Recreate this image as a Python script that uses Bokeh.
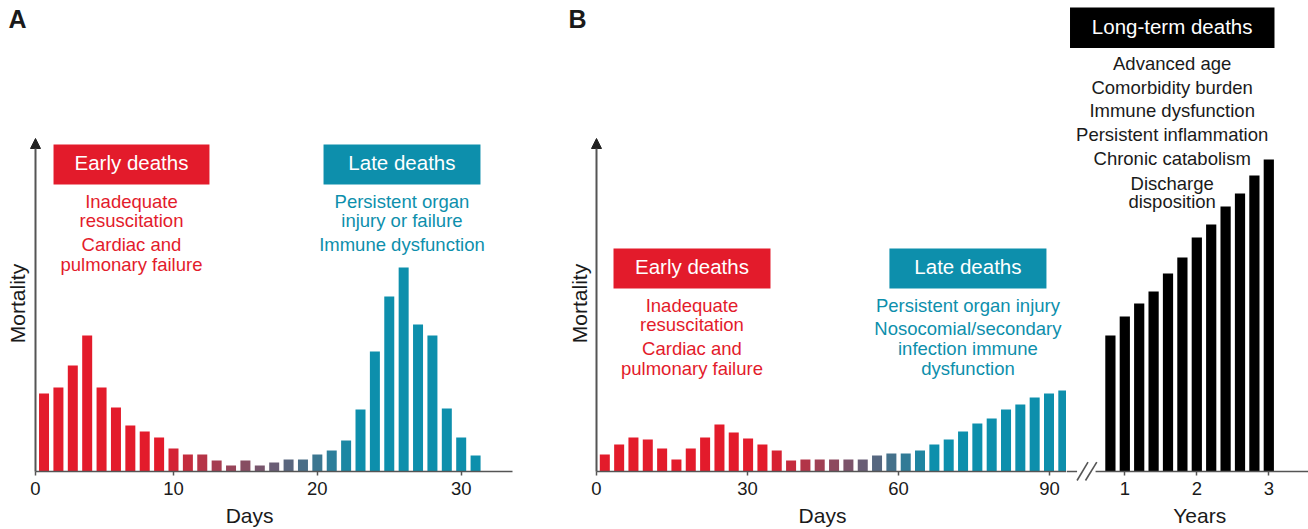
import numpy as np
from bokeh.plotting import figure
from bokeh.models import Range1d, FixedTicker, Label, Arrow, NormalHead
from bokeh.layouts import row
from bokeh.embed import file_html
from bokeh.resources import INLINE
from bokeh.core.properties import value

FONT = "Liberation Sans"
RED = "#e31b2b"
TEAL = "#0d8fac"
INK = "#1a1a1a"
AXIS = "#555555"

# ---------------- data ----------------
# Panel A: daily mortality (arbitrary units)
days_a = list(range(1, 32))
mort_a = [78, 84, 106, 136, 84, 64, 46, 40, 34, 23, 17, 17, 11, 6, 11,
          6, 9, 12, 12, 17, 21, 31, 62, 120, 175, 204, 147, 136, 63, 34, 16]
ticks_a = [10, 20, 30]

# Panel B: binned mortality over 90 days (33 bins)
bin_days_b = 2.847
days_b = [round(1.65 + bin_days_b * i, 2) for i in range(33)]
mort_b = [17, 27, 34, 32, 23, 12, 23, 34, 47, 39, 33, 27, 21, 11, 12, 12,
          12, 12, 12, 16, 18, 18, 21, 27, 32, 40, 48, 53, 62, 67, 74, 78, 81]
ticks_b = [0, 30, 60, 90]

# Panel B (years): long-term mortality
years_c = [0.8, 1.0, 1.2, 1.4, 1.6, 1.8, 2.0, 2.2, 2.4, 2.6, 2.8, 3.0]
mort_c = [136, 155, 168, 180, 198, 214, 234, 247, 265, 278, 296, 312]
ticks_c = [1, 2, 3]

early_a = ["Inadequate", "resuscitation", "Cardiac and", "pulmonary failure"]
late_a = ["Persistent organ", "injury or failure", "Immune dysfunction"]
early_b = ["Inadequate", "resuscitation", "Cardiac and", "pulmonary failure"]
late_b = ["Persistent organ injury", "Nosocomial/secondary", "infection immune", "dysfunction"]
long_c = ["Advanced age", "Comorbidity burden", "Immune dysfunction",
          "Persistent inflammation", "Chronic catabolism", "Discharge", "disposition"]


def blend(t):
    t = min(max(t, 0.0), 1.0)
    a = np.array([227, 27, 43], float)
    b = np.array([13, 143, 172], float)
    c = a * (1 - t) + b * t
    return "#%02x%02x%02x" % tuple(int(round(v)) for v in c)


colors_a = [blend((d - 9) / (23 - 9)) for d in days_a]
colors_b = [blend((d - 34) / (67 - 34)) for d in days_b]

H = 529
YR = (-58, 471)   # 1 unit = 1 px, baseline at 0
K = 0.4           # baseline correction (fraction of font size)


def make_fig(width, xr, bounds, ticks):
    p = figure(width=width, height=H, x_range=Range1d(*xr), y_range=Range1d(*YR),
               output_backend="svg", toolbar_location=None, tools="",
               min_border_left=0, min_border_right=0,
               min_border_top=0, min_border_bottom=0, y_axis_location=None)
    p.outline_line_color = None
    p.grid.visible = False
    p.background_fill_color = "white"
    p.border_fill_color = "white"
    ax = p.xaxis[0]
    ax.fixed_location = 0
    ax.bounds = bounds
    ax.ticker = FixedTicker(ticks=ticks)
    ax.axis_line_color = AXIS
    ax.axis_line_width = 1.6
    ax.major_tick_line_color = AXIS
    ax.major_tick_line_width = 1.5
    ax.major_tick_out = 4
    ax.major_tick_in = 0
    ax.minor_tick_line_color = None
    ax.major_label_text_font = FONT
    ax.major_label_text_font_size = "18.5px"
    ax.major_label_text_color = INK
    ax.major_label_standoff = 6
    return p


def txt(p, x, y, lines, color, size=18.5):
    p.text(x=[x] * len(lines), y=[v + K * size for v in y], text=lines,
           text_font=value(FONT), text_font_size=f"{size}px", text_color=color,
           text_align="center", text_baseline="alphabetic")


def yarrow(p, x0):
    p.add_layout(Arrow(x_start=x0, y_start=0, x_end=x0, y_end=333,
                       line_color=AXIS, line_width=2,
                       end=NormalHead(size=10, fill_color="#222222", line_color="#222222")))


def lab(p, x, y, text, size=21, bold=False, align="center"):
    p.add_layout(Label(x=x, y=y + K * size, text=text, text_font=FONT,
                       text_font_size=f"{size}px", text_color=INK, text_align=align,
                       text_baseline="alphabetic",
                       text_font_style="bold" if bold else "normal"))


def vlab(p, x, y, text, size=21):
    p.add_layout(Label(x=x, y=y, text=text, text_font=FONT, text_font_size=f"{size}px",
                       text_color=INK, text_align="center", text_baseline="alphabetic",
                       angle=np.pi / 2))


# ---------------- panel A ----------------
pxa = 14.385            # px per day
xa0 = 0.407             # day value at the y axis
ra0 = xa0 - 35 / pxa
pa = make_fig(560, (ra0, ra0 + 560 / pxa), (xa0, xa0 + 477 / pxa), [xa0 + 0.001] + ticks_a)
pa.xaxis.major_label_overrides = {xa0 + 0.001: "0"}
pa.vbar(x=days_a, top=mort_a, width=0.695, fill_color=colors_a, line_color=None)
yarrow(pa, xa0)
pa.quad(left=[1.66], right=[12.5], bottom=[287], top=[327], fill_color=RED, line_color=None)
pa.quad(left=[20.43], right=[31.34], bottom=[287], top=[327], fill_color=TEAL, line_color=None)
txt(pa, 7.08, [300.5], ["Early deaths"], "white", 20.5)
txt(pa, 25.88, [300.5], ["Late deaths"], "white", 20.5)
txt(pa, 7.08, [263, 243.5, 219.5, 199.5], early_a, RED)
txt(pa, 25.88, [263, 243.5, 219.5], late_a, TEAL)
lab(pa, xa0 - 27 / pxa, 443, "A", size=25, bold=True, align="left")
vlab(pa, xa0 - 18 / pxa, 168, "Mortality")
lab(pa, 15.29, -52, "Days")

# ---------------- panel B (days) ----------------
pxb = 5.033
rb0 = -36 / pxb
pb = make_fig(506, (rb0, rb0 + 506 / pxb), (0, 470 / pxb), ticks_b)
pb.vbar(x=days_b, top=mort_b, width=1.99, fill_color=colors_b, line_color=None)
yarrow(pb, 0)
pb.quad(left=[3.38], right=[34.57], bottom=[183], top=[223], fill_color=RED, line_color=None)
pb.quad(left=[58.2], right=[89.4], bottom=[183], top=[223], fill_color=TEAL, line_color=None)
txt(pb, 18.97, [196.5], ["Early deaths"], "white", 20.5)
txt(pb, 73.8, [196.5], ["Late deaths"], "white", 20.5)
txt(pb, 18.97, [159, 139.5, 115.5, 95.5], early_b, RED)
txt(pb, 73.8, [159, 135.5, 115.5, 95.5], late_b, TEAL)
lab(pb, -28 / pxb, 443, "B", size=25, bold=True, align="left")
vlab(pb, -17.5 / pxb, 168, "Mortality")
lab(pb, 44.9, -52, "Days")

# ---------------- panel B (years) ----------------
pxc = 72.0
xc0 = 1 + (1066 - 1124.3) / pxc
pc = make_fig(242, (xc0, xc0 + 242 / pxc), (1, 3), ticks_c)
pc.xaxis.axis_line_color = None
pc.vbar(x=years_c, top=mort_c, width=0.142, fill_color="black", line_color=None)
for (x1, y1, x2, y2) in [(xc0, 0, 0.337, 0), (0.337, -9, 0.489, 9.3),
                         (0.454, -9, 0.611, 9.3), (0.594, 0, 3.6, 0)]:
    pc.add_layout(Arrow(x_start=x1, y_start=y1, x_end=x2, y_end=y2, end=None,
                        line_color=AXIS, line_width=1.6))
pc.quad(left=[0.239], right=[3.079], bottom=[423.6], top=[464], fill_color="black", line_color=None)
txt(pc, 1.658, [437.2], ["Long-term deaths"], "white", 20.5)
txt(pc, 1.658, [401, 377, 353.2, 329.5, 305.2, 281, 263], long_c, INK)
lab(pc, 2.04, -52, "Years")

layout = row(pa, pb, pc)
open("out.html", "w").write(file_html(layout, INLINE))
